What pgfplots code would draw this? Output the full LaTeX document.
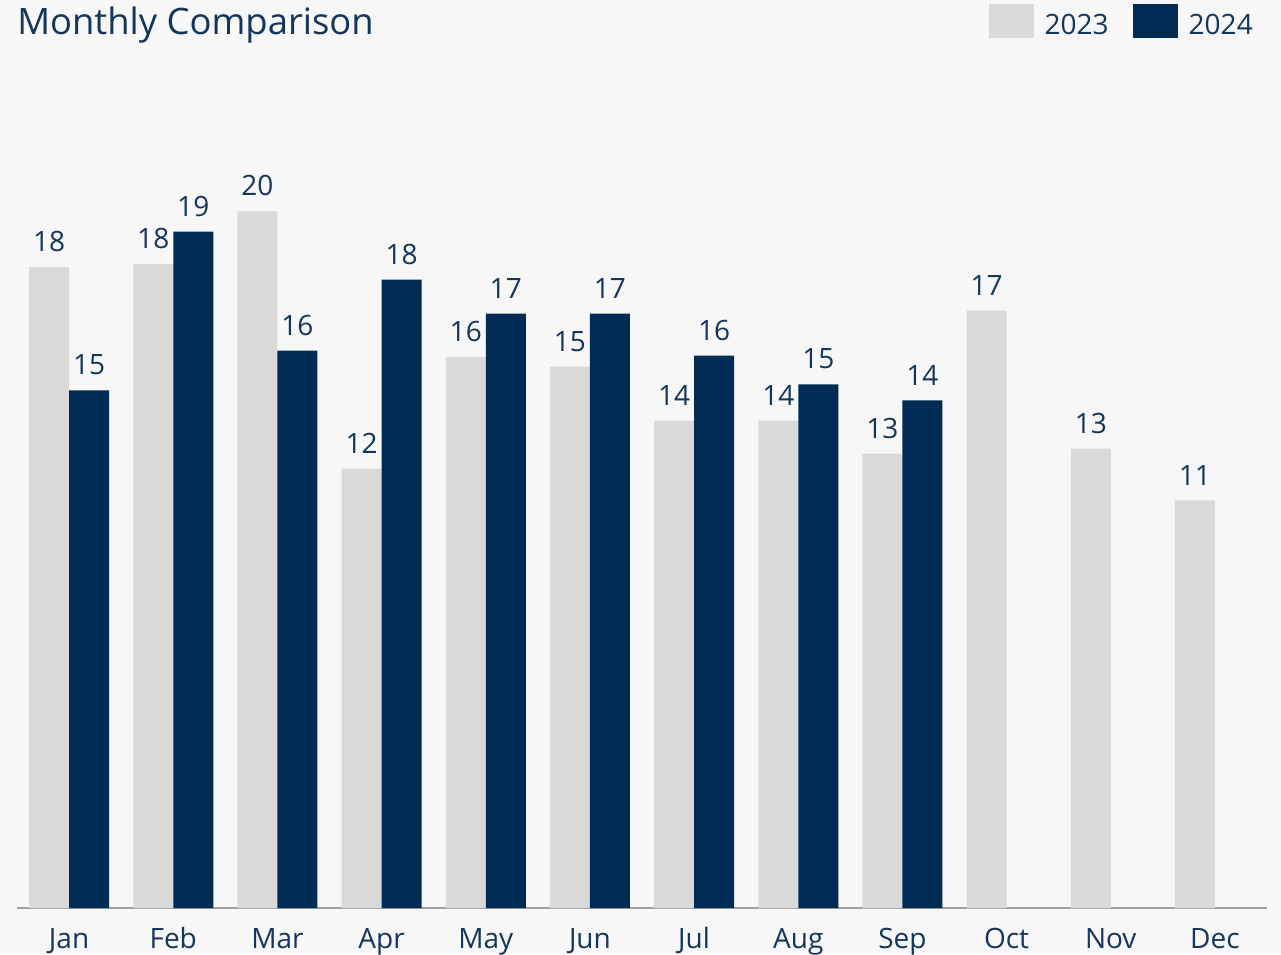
\documentclass[border=0pt]{standalone}
\usepackage{fontspec}
\setmainfont{Open Sans}
\usepackage{pgfplots}
\pgfplotsset{compat=1.18}
\definecolor{bgc}{HTML}{F7F7F7}
\definecolor{lightbar}{HTML}{D9D9D9}
\definecolor{navybar}{HTML}{002B55}
\definecolor{txt}{HTML}{14365D}
\definecolor{axisgray}{HTML}{A0A0A0}
\begin{document}
\begin{tikzpicture}
\path[use as bounding box, fill=bgc] (-12.75pt,-34.5pt) rectangle (948pt,681pt);
\begin{axis}[
  at={(0pt,0pt)}, anchor=south west,
  scale only axis, width=937.5pt, height=639pt,
  xmin=-0.5, xmax=11.5, ymin=0, ymax=24,
  ybar=0pt, bar width=30pt,
  axis x line=bottom, axis y line=none,
  x axis line style={-, draw=axisgray, line width=1.5pt},
  xtick={0,...,11},
  xticklabels={Jan,Feb,Mar,Apr,May,Jun,Jul,Aug,Sep,Oct,Nov,Dec},
  major tick length=0pt,
  xticklabel style={anchor=base, inner sep=0pt, yshift=-30pt, font=\fontsize{21}{25}\selectfont, text=txt},
  /pgf/number format/assume math mode=true,
  nodes near coords={\pgfmathprintnumber[fixed,precision=0]{\pgfplotspointmeta}},
  every node near coord/.append style={anchor=south, inner sep=0pt, yshift=11.25pt, font=\fontsize{21}{25}\selectfont, text=txt},
  every axis title shift=0pt,
  title={Monthly Comparison},
  title style={at={(axis description cs:0,1.0258)}, anchor=base west, inner sep=0pt, font=\fontsize{27.3}{32}\selectfont, text=txt},
  legend columns=2,
  legend style={at={(axis description cs:0.9888,1.061)}, anchor=north east, draw=none, fill=none, inner sep=0pt,
    nodes={inner sep=0pt, font=\fontsize{21}{25}\selectfont, text=txt},
    /tikz/every odd column/.append style={column sep=8.25pt},
    /tikz/every even column/.append style={column sep=18pt}},
  legend image code/.code={\fill[#1] (0pt,-9.75pt) rectangle (33.75pt,15.75pt);},
]
\addplot[fill=lightbar, draw=none] coordinates {
(0,18.05) (1,18.14) (2,19.62) (3,12.38) (4,15.52) (5,15.25) (6,13.73) (7,13.73) (8,12.80) (9,16.83) (10,12.94) (11,11.48)};
\addlegendentry{2023}
\addplot[fill=navybar, draw=none] coordinates {
(0,14.58) (1,19.05) (2,15.70) (3,17.70) (4,16.74) (5,16.74) (6,15.56) (7,14.75) (8,14.30)};
\addlegendentry{2024}
\end{axis}
\end{tikzpicture}
\end{document}
